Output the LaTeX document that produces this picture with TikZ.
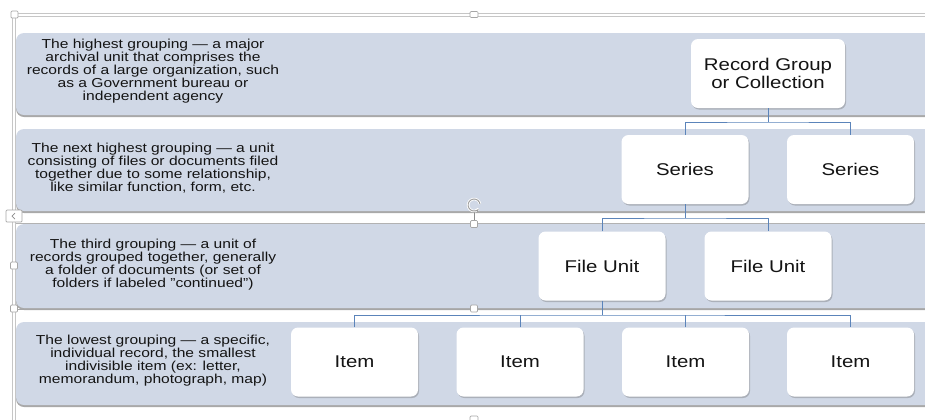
\documentclass[tikz,border=0pt]{standalone}
\usepackage{fontspec}
\setmainfont{Liberation Sans}[FakeStretch=1.2]
\usetikzlibrary{shadows,calc,arrows.meta}
\definecolor{band}{HTML}{D0D8E6}
\definecolor{bandedge}{HTML}{A9A9A9}
\definecolor{conn}{HTML}{5B84BA}
\definecolor{txt}{HTML}{141414}
\definecolor{ui}{HTML}{C6C6C6}
\begin{document}
\begin{tikzpicture}[x=1bp,y=-1bp,
  bandbox/.style={fill=band, rounded corners=8bp},
  bandshade/.style={fill=bandedge, rounded corners=8bp},
  bandtext/.style={align=center, text=txt, font=\fontsize{13bp}{13bp}\selectfont, inner sep=0pt},
  orgbox/.style={fill=white, rounded corners=7bp, minimum width=127bp, minimum height=69bp,
    inner sep=2pt, align=center, text=txt, font=\fontsize{17bp}{17.5bp}\selectfont,
    drop shadow={shadow xshift=1bp, shadow yshift=-1.5bp, opacity=0.35, fill=black!60}},
  link/.style={draw=conn, line width=0.9bp},
  uiline/.style={draw=ui, line width=0.7bp},
  handle/.style={draw=black!35, fill=white, line width=0.7bp, rounded corners=1bp}
]
\useasboundingbox (0,0) rectangle (925,419);
\clip (0,0) rectangle (925,419);

% selection frame of the SmartArt
\draw[uiline] (12,13) -- (930,13);
\draw[uiline] (14,16) -- (930,16);
\draw[uiline] (12,13) -- (12,425);
\draw[uiline] (15,16) -- (15,425);

% bands
\foreach \t/\b in {33/115, 129/211, 224/308, 322/405}{
  \fill[bandshade] (16,\t+2) rectangle (945,\b+2);
  \fill[bandbox] (16,\t) rectangle (945,\b);
}
% selection outline of the third band
\draw[uiline, draw=black!30] (16,223.5) -- (930,223.5);
\draw[uiline, draw=black!35] (16,309) -- (930,309);

% band texts
\node[bandtext] (t1) at (153,71) {The highest grouping — a major\\archival unit that comprises the\\records of a large organization, such\\as a Government bureau or\\independent agency};
\node[bandtext] (t2) at (153,168.5) {The next highest grouping — a unit\\consisting of files or documents filed\\together due to some relationship,\\like similar function, form, etc.};
\node[bandtext] (t3) at (153,265) {The third grouping — a unit of\\records grouped together, generally\\a folder of documents (or set of\\folders if labeled \symbol{34}continued\symbol{34})};
\node[bandtext] (t4) at (153,361) {The lowest grouping — a specific,\\individual record, the smallest\\indivisible item (ex: letter,\\memorandum, photograph, map)};

% hierarchy boxes
\node[orgbox, minimum width=154bp] (rg) at (768,73.5) {Record Group\\or Collection};
\node[orgbox] (s1) at (685,169.5) {Series};
\node[orgbox] (s2) at (850.5,169.5) {Series};
\node[orgbox] (f1) at (602,266) {File Unit};
\node[orgbox] (f2) at (768,266) {File Unit};
\node[orgbox] (i1) at (354.5,362) {Item};
\node[orgbox] (i2) at (520,362) {Item};
\node[orgbox] (i3) at (685.5,362) {Item};
\node[orgbox] (i4) at (850.5,362) {Item};

% connectors
\coordinate (j1) at (768,122);
\coordinate (j2) at (685,218);
\coordinate (j3) at (602,315);
\draw[link] (rg.south) -- (j1);
\draw[link] (s1.north) |- (j1) -| (s2.north);
\draw[link] (s1.south) -- (j2);
\draw[link] (f1.north) |- (j2) -| (f2.north);
\draw[link] (f1.south) -- (j3);
\draw[link] (i1.north) |- (j3) -| (i4.north);
\draw[link] (i2.north) -- (i2.north |- j3);
\draw[link] (i3.north) -- (i3.north |- j3);

% selection handles
\draw[handle] (11,11) rectangle (18,18);
\draw[handle] (470,11.5) rectangle (478,17.5);
\draw[handle] (470,416) rectangle (478,422);
\draw[handle] (6,210) rectangle (22,222);
\draw[black!45, line width=0.7bp] (15,213) -- (12,216) -- (15,219);
\draw[handle] (10.5,262) rectangle (17.5,269);
\draw[handle] (10.5,305) rectangle (17.5,312);
\draw[black!45, line width=0.7bp] (474,211) -- (474,221);
\draw[handle] (470.5,220.5) rectangle (477.5,227.5);
\draw[handle] (470.5,305) rectangle (477.5,312);
\draw[white, line width=2.6bp] (480,204) arc[start angle=10, end angle=320, radius=6bp];
\draw[black!40, line width=0.9bp, -{Stealth[length=3.5bp]}] (480,204) arc[start angle=10, end angle=320, radius=6bp];
\end{tikzpicture}
\end{document}
